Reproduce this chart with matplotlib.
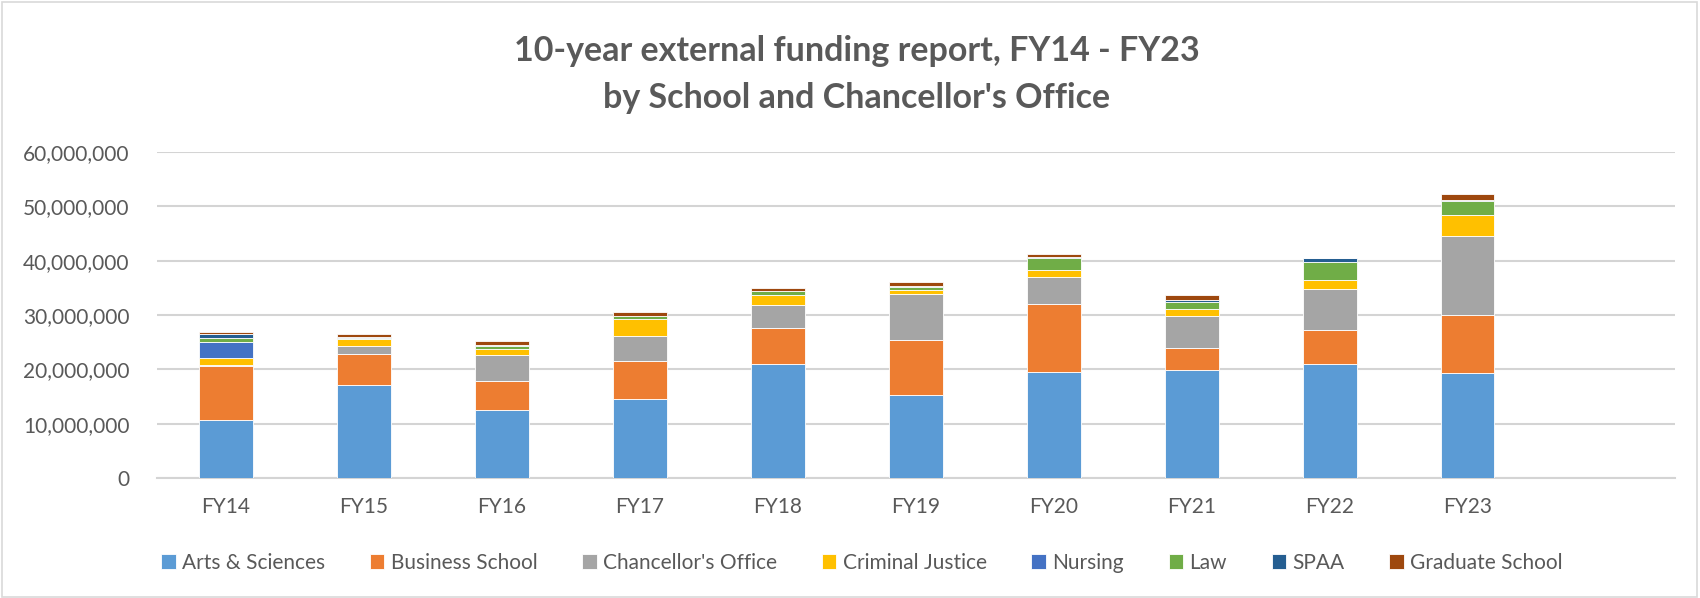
import matplotlib.pyplot as plt
from matplotlib.patches import Rectangle
from matplotlib.ticker import FuncFormatter

years = ['FY14', 'FY15', 'FY16', 'FY17', 'FY18', 'FY19', 'FY20', 'FY21', 'FY22', 'FY23']

# values (dollars)
arts = [10.6e6, 17.06e6, 12.58e6, 14.48e6, 21.04e6, 15.22e6, 19.5e6, 19.95e6, 20.98e6, 19.4e6]
business = [9.95e6, 5.82e6, 5.34e6, 7.0e6, 6.62e6, 10.24e6, 12.55e6, 4.05e6, 6.2e6, 10.6e6]
chancellor = [0.3e6, 1.47e6, 4.72e6, 4.72e6, 4.24e6, 8.41e6, 4.97e6, 5.87e6, 7.66e6, 14.5e6]
criminal = [1.23e6, 1.17e6, 1.16e6, 3.07e6, 1.78e6, 0.73e6, 1.18e6, 1.23e6, 1.6e6, 3.99e6]
nursing = [2.94e6, 0, 0, 0, 0, 0, 0, 0, 0, 0]
law = [0.68e6, 0.25e6, 0.5e6, 0.49e6, 0.68e6, 0.61e6, 2.26e6, 1.35e6, 3.37e6, 2.57e6]
spaa = [0.85e6, 0.12e6, 0.18e6, 0.05e6, 0.05e6, 0.19e6, 0.19e6, 0.31e6, 0.68e6, 0.05e6]
graduate = [0.25e6, 0.55e6, 0.67e6, 0.66e6, 0.61e6, 0.68e6, 0.55e6, 0.92e6, 0, 1.1e6]

series = [
    ('Arts & Sciences', arts, '#5B9BD5'),
    ('Business School', business, '#ED7D31'),
    ("Chancellor's Office", chancellor, '#A5A5A5'),
    ('Criminal Justice', criminal, '#FFC000'),
    ('Nursing', nursing, '#4472C4'),
    ('Law', law, '#70AD47'),
    ('SPAA', spaa, '#255E91'),
    ('Graduate School', graduate, '#9E480E'),
]

plt.rcParams['font.family'] = ['Lato', 'DejaVu Sans']
txt = '#595959'

fig = plt.figure(figsize=(17, 5.98), dpi=100)
ax = fig.add_axes([0.0924, 0.2007, 0.8926, 0.5451])

x = list(range(len(years)))
bottom = [0.0] * len(years)
for name, vals, col in series:
    ax.bar(x, vals, 0.39, bottom=bottom, color=col, label=name,
           edgecolor='white', linewidth=0.6, zorder=3)
    bottom = [b + v for b, v in zip(bottom, vals)]

ax.set_xlim(-0.5, 10.5)
ax.set_ylim(0, 60e6)
ax.set_yticks(range(0, 60000001, 10000000))
ax.yaxis.set_major_formatter(FuncFormatter(lambda v, p: f'{int(v):,}'))
ax.set_xticks(x)
ax.set_xticklabels(years)
ax.grid(axis='y', color='#D4D4D4', linewidth=1.5, zorder=0)
for s in ['top', 'right', 'left']:
    ax.spines[s].set_visible(False)
ax.spines['bottom'].set_color('#D4D4D4')
ax.spines['bottom'].set_linewidth(1.5)
ax.tick_params(axis='both', length=0, labelsize=15, labelcolor=txt)
ax.tick_params(axis='y', pad=20)
ax.tick_params(axis='x', pad=14)

fig.text(0.504, 0.915, '10-year external funding report, FY14 - FY23', ha='center',
         va='center', fontsize=24.5, fontweight='bold', color=txt)
fig.text(0.504, 0.836, "by School and Chancellor's Office", ha='center',
         va='center', fontsize=24.5, fontweight='bold', color=txt)

leg = fig.legend(loc='center', bbox_to_anchor=(0.507, 0.0585), ncol=8, frameon=False,
                 fontsize=15, handlelength=0.7, handleheight=0.7, handletextpad=0.3,
                 columnspacing=2.15, labelcolor=txt)

fig.patches.append(Rectangle((0.001, 0.002), 0.997, 0.995, transform=fig.transFigure,
                             fill=False, edgecolor='#D9D9D9', linewidth=1.2))

fig.savefig('out.png', dpi=100)
